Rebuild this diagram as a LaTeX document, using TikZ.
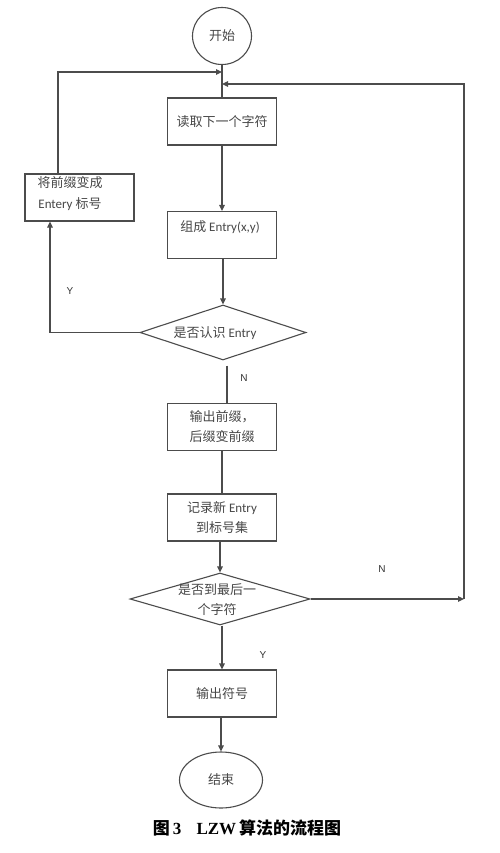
\documentclass[tikz,border=0pt]{standalone}
\usepackage{fontspec}
\setmainfont{Carlito}
\newfontfamily\cjk{Noto Sans CJK SC}
\newfontfamily\tnr{Liberation Serif}
\newfontfamily\arl{Liberation Sans}
\usetikzlibrary{shapes.geometric,arrows.meta}
\begin{document}
\begin{tikzpicture}[x=1pt,y=-1pt,
  line/.style={draw=black!70, line width=1.1pt},
  arr/.style={line, -{Triangle[length=6pt,width=5.5pt]}},
  box/.style={draw=black!70, line width=1.1pt, rectangle, minimum width=109pt, minimum height=47pt, inner sep=0pt,
    text=black!72, font=\fontsize{13}{20}\selectfont, align=center},
  txt/.style={text=black!72, font=\fontsize{13}{21}\selectfont, align=center, inner sep=0pt},
  dia/.style={draw=black!70, line width=1.1pt, diamond, inner sep=0pt},
  term/.style={draw=black!70, line width=1.1pt, ellipse, inner sep=0pt, text=black!72, font=\fontsize{13}{15}\selectfont},
  yn/.style={text=black!80, font=\arl\fontsize{10}{12}\selectfont, inner sep=0pt}]
\useasboundingbox (0,0) rectangle (500,853);
\fill[white] (0,0) rectangle (500,853);

\node[term, minimum width=59pt, minimum height=57pt] (start) at (222,36) {\cjk 开始};
\coordinate (m1) at (222,72);
\coordinate (m2) at (222,84);
\node[box] (read) at (222,121.5) {\cjk 读取下一个字符};
\node[box] (pref) at (79.5,197.5) {};
\node[txt] (preft) at (70,194) {\cjk 将前缀变成\\Entery {\cjk 标号}};
\node[box] (entry) at (222,235) {};
\node[txt] (entryt) at (220,227) {{\cjk 组成} Entry(x,y)};
\node[dia, minimum width=166pt, minimum height=55pt] (d1) at (223,332.5) {};
\node[txt] (d1t) at (215,333) {{\cjk 是否认识} Entry};
\node[box] (out1) at (222,427) {{\cjk 输出前缀，}\\{\cjk 后缀变前缀}};
\node[box] (rec) at (222,517.5) {{\cjk 记录新} Entry\\{\cjk 到标号集}};
\node[dia, minimum width=180pt, minimum height=52pt] (d2) at (220,599) {};
\node[txt, font=\fontsize{13}{20}\selectfont] (d2t) at (217,600) {{\cjk 是否到最后一}\\{\cjk 个字符}};
\node[box] (outs) at (222,693.5) {\cjk 输出符号};
\node[term, minimum width=83pt, minimum height=56pt] (end) at (221,780) {\cjk 结束};
\coordinate (rc) at (464,599);

\draw[line] (start.south) -- (read.north);
\draw[arr] ([xshift=-21.5pt]pref.north) |- (m1);
\draw[arr] (rc) |- (m2);
\draw[arr] (read.south) -- (entry.north);
\draw[arr] ([xshift=1pt]entry.south) -- (d1.north);
\draw[arr] (d1.west) -| ([xshift=-29.5pt]pref.south);
\draw[line] ([xshift=4pt,yshift=-5pt]d1.south) -- ([xshift=5pt]out1.north);
\draw[line] (out1.south) -- (rec.north);
\draw[arr] ([xshift=-2pt]rec.south) -- (d2.north);
\draw[arr] (d2.east) -- (rc);
\draw[arr] ([xshift=2pt]d2.south) -- ([xshift=2pt]d2.south |- outs.north);
\draw[arr] ([xshift=-1pt]outs.south) -- (end.north);

\node[yn] (y1) at (70,291) {Y};
\node[yn] (n1) at (244,378) {N};
\node[yn] (n2) at (382,569) {N};
\node[yn] (y2) at (263,655) {Y};

\node[inner sep=0pt, font=\fontsize{17}{20}\selectfont\bfseries] (cap) at (247,828)
  {{\cjk 图}{\tnr\bfseries\,3}\hspace{0.9em}{\tnr\bfseries LZW}\,{\cjk\bfseries 算法的流程图}};
\end{tikzpicture}
\end{document}
